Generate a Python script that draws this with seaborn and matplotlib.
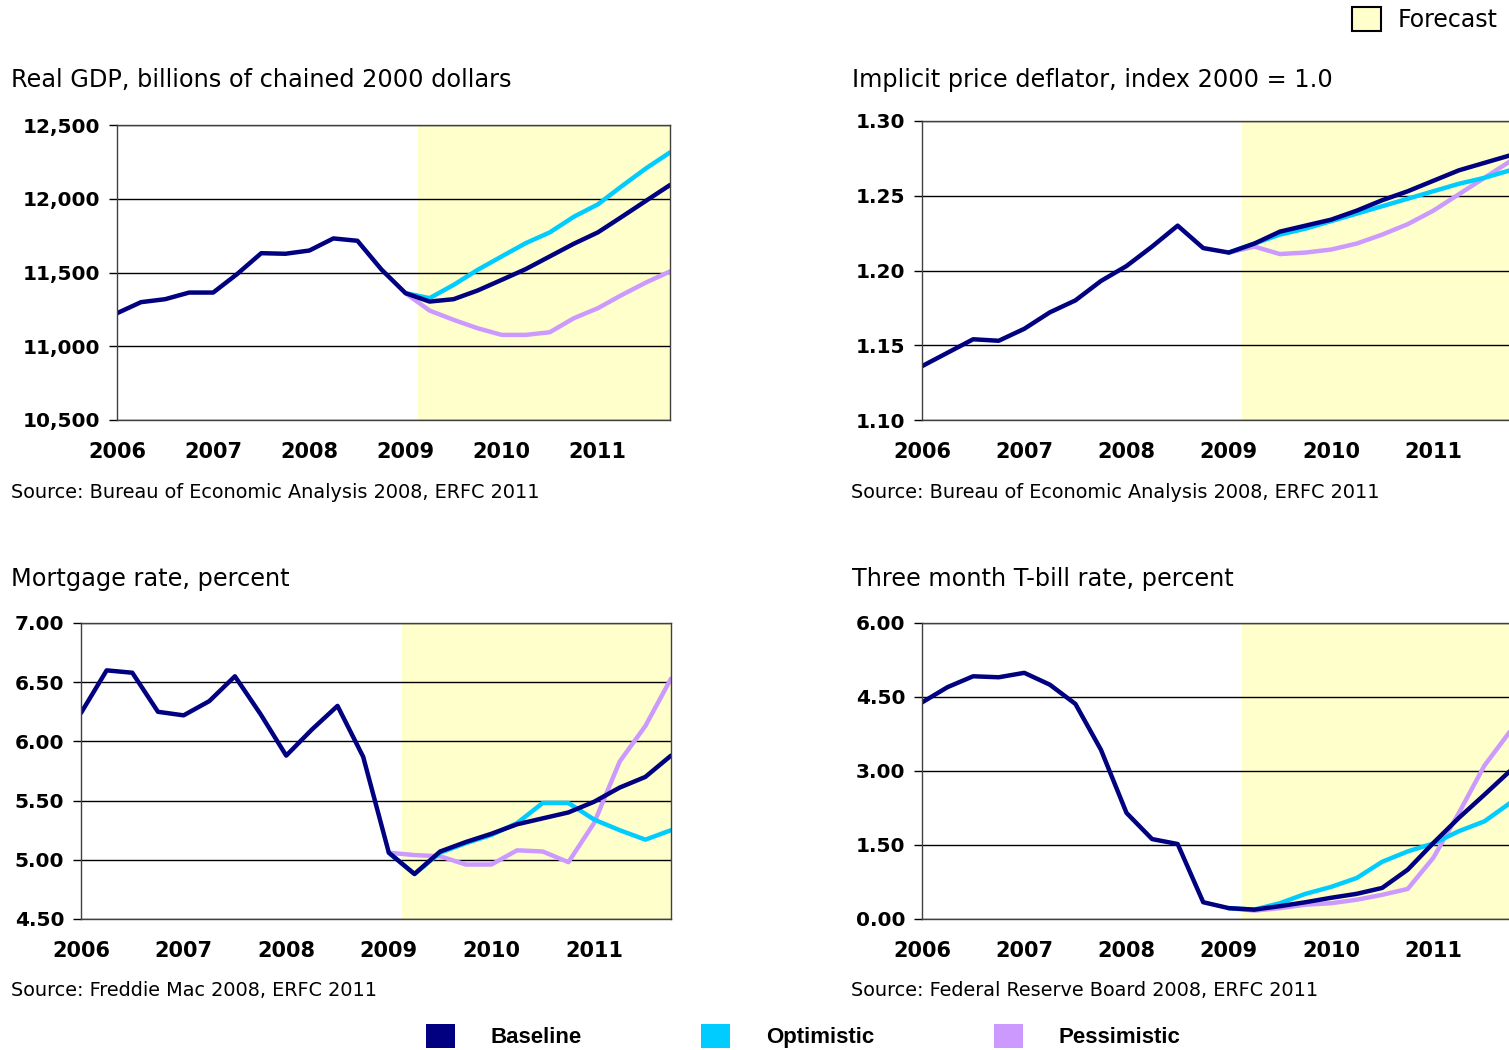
import numpy as np
import pandas as pd
import seaborn as sns
import matplotlib.pyplot as plt
from matplotlib.patches import Patch
from matplotlib.ticker import FuncFormatter

# Data -------------------------------------------------------------------------
# Quarterly values, 2006Q1 .. 2011Q4 (history up to 2009Q1, forecast after)
YEARS = ["2006", "2007", "2008", "2009", "2010", "2011"]
SCENARIOS = ["Baseline", "Optimistic", "Pessimistic"]
COLORS = {"Baseline": "#000080", "Optimistic": "#00CCFF", "Pessimistic": "#CC99FF"}
SHADE = "#FFFFCC"

gdp_hist = [11224, 11299, 11319, 11364, 11364, 11490, 11631, 11627, 11649, 11731, 11715, 11520, 11360]
gdp_base = [11303, 11319, 11378, 11450, 11523, 11609, 11695, 11772, 11878, 11986, 12093]
gdp_opt = [11326, 11416, 11518, 11609, 11699, 11772, 11878, 11962, 12086, 12206, 12314]
gdp_pes = [11242, 11179, 11122, 11077, 11077, 11095, 11190, 11258, 11348, 11432, 11507]

defl_hist = [1.136, 1.145, 1.154, 1.153, 1.161, 1.172, 1.180, 1.193, 1.203, 1.216, 1.230, 1.215, 1.212]
defl_base = [1.218, 1.226, 1.230, 1.234, 1.240, 1.247, 1.253, 1.260, 1.267, 1.272, 1.277]
defl_opt = [1.218, 1.224, 1.228, 1.233, 1.238, 1.243, 1.248, 1.253, 1.258, 1.262, 1.267]
defl_pes = [1.216, 1.211, 1.212, 1.214, 1.218, 1.224, 1.231, 1.240, 1.251, 1.262, 1.273]

mort_hist = [6.24, 6.60, 6.58, 6.25, 6.22, 6.34, 6.55, 6.23, 5.88, 6.10, 6.30, 5.87, 5.06]
mort_base = [4.88, 5.07, 5.15, 5.22, 5.30, 5.35, 5.40, 5.49, 5.61, 5.70, 5.88]
mort_opt = [4.88, 5.06, 5.14, 5.21, 5.31, 5.48, 5.48, 5.34, 5.25, 5.17, 5.25]
mort_pes = [5.04, 5.03, 4.96, 4.96, 5.08, 5.07, 4.98, 5.31, 5.83, 6.13, 6.53]

tbill_hist = [4.39, 4.70, 4.92, 4.90, 4.99, 4.75, 4.36, 3.43, 2.15, 1.62, 1.52, 0.34, 0.22]
tbill_base = [0.19, 0.26, 0.34, 0.43, 0.51, 0.63, 1.00, 1.54, 2.05, 2.52, 3.00]
tbill_opt = [0.19, 0.32, 0.51, 0.65, 0.83, 1.16, 1.37, 1.53, 1.78, 1.98, 2.35]
tbill_pes = [0.17, 0.22, 0.29, 0.32, 0.39, 0.49, 0.61, 1.24, 2.15, 3.11, 3.80]


def build_frame(hist, base, opt, pes):
    """Long table: history + baseline as one line, others start at last history point."""
    n_hist = len(hist)
    rows = []
    for q, v in enumerate(hist + base):
        rows.append((q, v, "Baseline"))
    for name, vals in (("Optimistic", opt), ("Pessimistic", pes)):
        for q, v in enumerate([hist[-1]] + vals):
            rows.append((n_hist - 1 + q, v, name))
    return pd.DataFrame(rows, columns=["q", "value", "scenario"])


# Style ------------------------------------------------------------------------
sns.set_style("white")
plt.rcParams["font.family"] = ["DejaVu Sans"]
for key in ("text.color", "axes.labelcolor", "xtick.color", "ytick.color"):
    plt.rcParams[key] = "black"

W, H = 1509, 1050
fig = plt.figure(figsize=(W / 100, H / 100), dpi=100)


def px_axes(left, right, top, bottom):
    return fig.add_axes([left / W, 1 - bottom / H, (right - left) / W, (bottom - top) / H])


panels = [
    dict(frame=build_frame(gdp_hist, gdp_base, gdp_opt, gdp_pes), box=(117, 670, 125, 420),
         ylim=(10500, 12500), step=500, fmt=lambda v, p: f"{v:,.0f}",
         title="Real GDP, billions of chained 2000 dollars", tpos=(11, 80),
         source="Source: Bureau of Economic Analysis 2008, ERFC 2011", spos=(11, 492)),
    dict(frame=build_frame(defl_hist, defl_base, defl_opt, defl_pes), box=(922, 1510, 121, 420),
         ylim=(1.10, 1.30), step=0.05, fmt=lambda v, p: f"{v:.2f}",
         title="Implicit price deflator, index 2000 = 1.0", tpos=(852, 80),
         source="Source: Bureau of Economic Analysis 2008, ERFC 2011", spos=(851, 492)),
    dict(frame=build_frame(mort_hist, mort_base, mort_opt, mort_pes), box=(81, 671, 623, 919),
         ylim=(4.50, 7.00), step=0.5, fmt=lambda v, p: f"{v:.2f}",
         title="Mortgage rate, percent", tpos=(11, 579),
         source="Source: Freddie Mac 2008, ERFC 2011", spos=(11, 991)),
    dict(frame=build_frame(tbill_hist, tbill_base, tbill_opt, tbill_pes), box=(922, 1510, 623, 919),
         ylim=(0.0, 6.0), step=1.5, fmt=lambda v, p: f"{v:.2f}",
         title="Three month T-bill rate, percent", tpos=(852, 579),
         source="Source: Federal Reserve Board 2008, ERFC 2011", spos=(851, 991)),
]

n_quarters = len(gdp_hist) + len(gdp_base)

for p in panels:
    ax = px_axes(*p["box"])
    ax.axvspan(len(gdp_hist) - 0.5, n_quarters - 1, color=SHADE, zorder=0, lw=0)
    sns.lineplot(data=p["frame"], x="q", y="value", hue="scenario",
                 hue_order=["Pessimistic", "Optimistic", "Baseline"], palette=COLORS,
                 linewidth=3.2, errorbar=None, legend=False, ax=ax,
                 solid_joinstyle="round")
    lo, hi = p["ylim"]
    ax.set_xlim(0, n_quarters - 1)
    ax.set_ylim(lo, hi)
    ax.set_yticks(np.arange(lo, hi + p["step"] / 2, p["step"]))
    ax.yaxis.set_major_formatter(FuncFormatter(p["fmt"]))
    ax.set_xticks(range(0, n_quarters, 4))
    ax.set_xticklabels(YEARS)
    ax.set_xlabel("")
    ax.set_ylabel("")
    ax.grid(axis="y", color="black", lw=1)
    ax.set_axisbelow(True)
    ax.tick_params(axis="y", left=True, length=6, width=1, pad=6, labelsize=14.5)
    ax.tick_params(axis="x", bottom=False, length=0, pad=16, labelsize=15)
    for lab in ax.get_xticklabels() + ax.get_yticklabels():
        lab.set_fontweight("bold")
    for s in ax.spines.values():
        s.set_color("#404040")
        s.set_linewidth(1)
    fig.text(p["tpos"][0] / W, 1 - p["tpos"][1] / H, p["title"], fontsize=17.3,
             ha="left", va="center")
    fig.text(p["spos"][0] / W, 1 - p["spos"][1] / H, p["source"], fontsize=13.9,
             ha="left", va="center")

# Legends ----------------------------------------------------------------------
fig.legend(handles=[Patch(facecolor=COLORS[s], edgecolor="none", label=s) for s in SCENARIOS],
           loc="center", bbox_to_anchor=(803 / W, 1 - 1036 / H), ncol=3, frameon=False,
           prop={"family": "Liberation Sans", "weight": "bold", "size": 16},
           handlelength=1.3, handleheight=1.3, handletextpad=1.6, columnspacing=5.4,
           borderpad=0, borderaxespad=0)

fig.legend(handles=[Patch(facecolor=SHADE, edgecolor="black", lw=1.5, label="Forecast")],
           loc="upper right", bbox_to_anchor=(1498 / W, 1 - 7 / H), frameon=False,
           fontsize=17, handlelength=1.25, handleheight=1.2, handletextpad=0.7,
           borderpad=0, borderaxespad=0)

fig.savefig("out.png", dpi=100)
